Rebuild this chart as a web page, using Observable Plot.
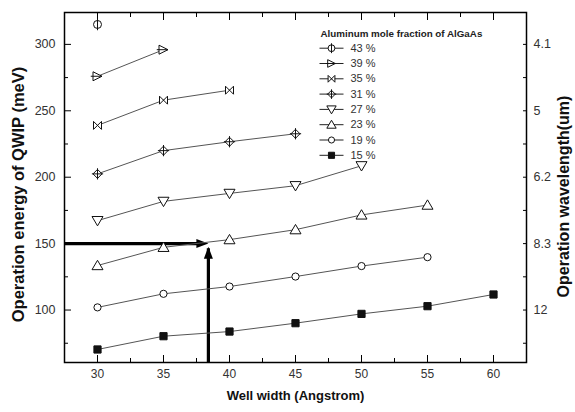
<!DOCTYPE html>
<html>
<head>
<meta charset="utf-8">
<script src="https://cdn.jsdelivr.net/npm/d3@7"></script>
<script src="https://cdn.jsdelivr.net/npm/@observablehq/plot@0.6"></script>
<style>
  html, body { margin: 0; padding: 0; background: #fff; }
  #chart svg { display: block; }
</style>
</head>
<body>
<div id="chart"></div>
<script>
// ---- data ----
const wellWidths = [30, 35, 40, 45, 50, 55, 60];
const fractionLabels = ["43 %", "39 %", "35 %", "31 %", "27 %", "23 %", "19 %", "15 %"];
const e43 = [315];
const e39 = [276, 296];
const e35 = [239, 258, 265.5];
const e31 = [202.5, 220, 226.7, 232.7];
const e27 = [167.3, 181.8, 187.8, 193.6, 208.6];
const e23 = [133.5, 147.2, 153, 160.5, 171.6, 179];
const e19 = [102, 112.2, 117.7, 125.2, 133.1, 139.8];
const e15 = [70.3, 80.3, 83.8, 90.1, 97.1, 102.9, 111.7];
const energySeries = [e43, e39, e35, e31, e27, e23, e19, e15];

const xMajorTicks = [30, 35, 40, 45, 50, 55, 60];
const xMinorTicks = [32.5, 37.5, 42.5, 47.5, 52.5, 57.5];
const yMajorTicks = [100, 150, 200, 250, 300];
const yMinorTicks = [75, 125, 175, 225, 275];
const wavelengthLabels = ["12", "8.3", "6.2", "5", "4.1"]; // at yMajorTicks

const arrowEnergy = 150;      // horizontal arrow level (meV)
const arrowWidth = 38.4;      // vertical arrow position (Angstrom)

const xTitle = "Well width (Angstrom)";
const yTitle = "Operation energy of QWIP (meV)";
const y2Title = "Operation wavelength(um)";
const legendTitle = "Aluminum mole fraction of AlGaAs";

// ---- marker shapes ----
const R = s => Math.sqrt(s / Math.PI);
const symPhi = {draw(c, s) { const r = R(s); c.moveTo(r, 0); c.arc(0, 0, r, 0, 2 * Math.PI); c.moveTo(0, -r * 1.45); c.lineTo(0, r * 1.45); }};
const symRight = {draw(c, s) { const r = R(s); c.moveTo(-r, -r); c.lineTo(r, 0); c.lineTo(-r, r); c.closePath(); c.moveTo(-r * 1.5, 0); c.lineTo(r, 0); }};
const symBow = {draw(c, s) { const r = R(s); c.moveTo(-r, -r); c.lineTo(r, r); c.lineTo(r, -r); c.lineTo(-r, r); c.closePath(); }};
const symDiaPlus = {draw(c, s) { const r = R(s); c.moveTo(0, -r); c.lineTo(r, 0); c.lineTo(0, r); c.lineTo(-r, 0); c.closePath(); c.moveTo(0, -r * 1.25); c.lineTo(0, r * 1.25); c.moveTo(-r * 1.25, 0); c.lineTo(r * 1.25, 0); }};
const symDown = {draw(c, s) { const r = R(s); c.moveTo(-r, -r * 0.75); c.lineTo(r, -r * 0.75); c.lineTo(0, r * 0.95); c.closePath(); }};
const symUp = {draw(c, s) { const r = R(s); c.moveTo(-r, r * 0.75); c.lineTo(r, r * 0.75); c.lineTo(0, -r * 0.95); c.closePath(); }};
const symCircle = {draw(c, s) { const r = R(s); c.moveTo(r, 0); c.arc(0, 0, r, 0, 2 * Math.PI); }};
const symSquare = {draw(c, s) { const r = R(s); c.rect(-r, -r, 2 * r, 2 * r); }};
const symHead = {draw(c, s) { c.moveTo(0, 0); c.lineTo(-12, -4.5); c.lineTo(-12, 4.5); c.closePath(); }};

const styles = [
  {symbol: symPhi, r: 4, fill: "white"},
  {symbol: symRight, r: 4.5, fill: "white"},
  {symbol: symBow, r: 4, fill: "white"},
  {symbol: symDiaPlus, r: 4.5, fill: "white"},
  {symbol: symDown, r: 5.5, fill: "white"},
  {symbol: symUp, r: 5.5, fill: "white"},
  {symbol: symCircle, r: 3.6, fill: "white"},
  {symbol: symSquare, r: 3.6, fill: "#111"}
];

const rows = [];
energySeries.forEach((vals, k) => vals.forEach((e, i) => rows.push({series: fractionLabels[k], k, width: wellWidths[i], energy: e})));

const font = "'Liberation Sans', Arial, sans-serif";
const marks = [];

// ticks and axes
marks.push(Plot.axisX({anchor: "bottom", ticks: xMajorTicks, tickSize: -7, tickPadding: 14, label: null, fontSize: 12, fill: "#333"}));
marks.push(Plot.axisX({anchor: "bottom", ticks: xMinorTicks, tickSize: -4, tickFormat: () => "", label: null}));
marks.push(Plot.axisX({anchor: "top", ticks: xMajorTicks, tickSize: -7, tickFormat: () => "", label: null}));
marks.push(Plot.axisX({anchor: "top", ticks: xMinorTicks, tickSize: -4, tickFormat: () => "", label: null}));
marks.push(Plot.axisY({anchor: "left", ticks: yMajorTicks, tickSize: -7, tickPadding: 16, label: null, fontSize: 12.5, fill: "#333"}));
marks.push(Plot.axisY({anchor: "left", ticks: yMinorTicks, tickSize: -4, tickFormat: () => "", label: null}));
const wlMap = new Map(yMajorTicks.map((v, i) => [v, wavelengthLabels[i]]));
marks.push(Plot.axisY({anchor: "right", ticks: yMajorTicks, tickSize: -4, tickPadding: 11, tickFormat: d => wlMap.get(d), label: null, fontSize: 12.5, fill: "#333"}));
marks.push(Plot.axisY({anchor: "right", ticks: yMinorTicks, tickSize: -4, tickFormat: () => "", label: null}));
marks.push(Plot.frame({stroke: "#000", strokeWidth: 1.5}));

// arrows
marks.push(Plot.link([{e: arrowEnergy}], {x1: () => 27.5, x2: () => arrowWidth - 0.6, y1: "e", y2: "e", stroke: "#000", strokeWidth: 3.2}));
marks.push(Plot.dot([{e: arrowEnergy}], {x: () => arrowWidth, y: "e", symbol: symHead, fill: "#000", stroke: "none"}));
marks.push(Plot.link([{w: arrowWidth}], {x1: "w", x2: "w", y1: () => 60.5, y2: () => arrowEnergy - 3.5, stroke: "#000", strokeWidth: 3.2}));
marks.push(Plot.dot([{w: arrowWidth}], {x: "w", y: () => arrowEnergy - 2.3, symbol: symHead, rotate: -90, fill: "#000", stroke: "none"}));

// series
marks.push(Plot.line(rows, {x: "width", y: "energy", z: "series", stroke: "#555", strokeWidth: 1}));
styles.forEach((st, k) => {
  marks.push(Plot.dot(rows.filter(d => d.k === k), {x: "width", y: "energy", symbol: st.symbol, r: st.r, fill: st.fill, stroke: "#111", strokeWidth: 1}));
});

// legend
marks.push(Plot.text([legendTitle], {frameAnchor: "top-left", dx: 256, dy: 21, textAnchor: "start", lineAnchor: "middle", fontSize: 9.8, fontWeight: "bold", fill: "#222"}));
styles.forEach((st, k) => {
  const dy = 35.7 + k * 15.3;
  marks.push(Plot.dot([0], {frameAnchor: "top-left", dx: 267, dy, symbol: {draw(c) { c.moveTo(-12, 0); c.lineTo(12, 0); }}, stroke: "#222", strokeWidth: 1}));
  marks.push(Plot.dot([0], {frameAnchor: "top-left", dx: 267, dy, symbol: st.symbol, r: st.r * 0.85, fill: st.fill, stroke: "#111", strokeWidth: 1}));
  marks.push(Plot.text([fractionLabels[k]], {frameAnchor: "top-left", dx: 286, dy, textAnchor: "start", lineAnchor: "middle", fontSize: 11, fill: "#333"}));
});

// axis titles
marks.push(Plot.text([xTitle], {frameAnchor: "bottom", dy: 33, textAnchor: "middle", lineAnchor: "middle", fontSize: 13, fontWeight: "bold", fill: "#111"}));
marks.push(Plot.text([yTitle], {frameAnchor: "left", dx: -46, dy: 7, rotate: -90, textAnchor: "middle", lineAnchor: "middle", fontSize: 16.5, fontWeight: "bold", fill: "#111"}));
marks.push(Plot.text([y2Title], {frameAnchor: "right", dx: 37, dy: 9, rotate: -90, textAnchor: "middle", lineAnchor: "middle", fontSize: 16, fontWeight: "bold", fill: "#111"}));

const chart = Plot.plot({
  width: 575,
  height: 412,
  marginLeft: 64,
  marginRight: 49,
  marginTop: 12,
  marginBottom: 50,
  style: {fontFamily: font, background: "#fff", color: "#000"},
  x: {domain: [27.5, 62.5]},
  y: {domain: [60.5, 324]},
  marks
});
document.getElementById("chart").appendChild(chart);
</script>
</body>
</html>
